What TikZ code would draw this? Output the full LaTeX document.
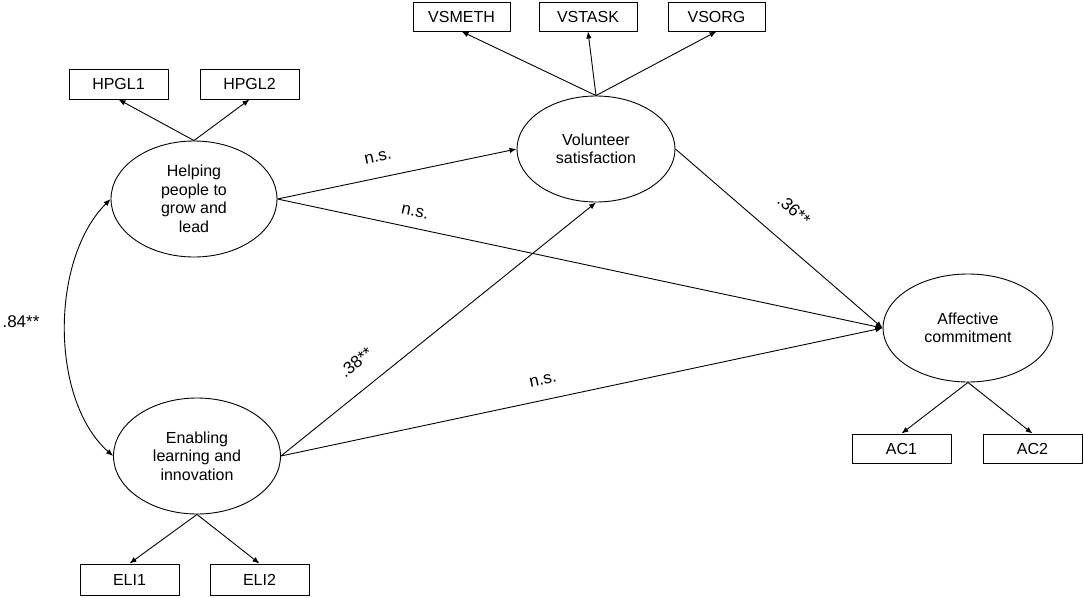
\documentclass[tikz,border=0pt]{standalone}
\usepackage{fontspec}
\setmainfont{Liberation Sans}
\usetikzlibrary{shapes.geometric,arrows.meta}
\begin{document}
\begin{tikzpicture}[x=1pt,y=-1pt,
  every node/.style={font=\fontsize{16}{18.5}\selectfont},
  obs/.style={draw,line width=0.9pt,rectangle,inner sep=0pt,minimum height=30pt},
  lat/.style={draw,line width=0.9pt,ellipse,inner sep=0pt,align=center},
  arr/.style={line width=0.9pt,-{Latex[length=7pt,width=5.5pt]}},
  darr/.style={line width=0.9pt,{Latex[length=7pt,width=5.5pt]}-{Latex[length=7pt,width=5.5pt]}},
  lab/.style={font=\fontsize{17}{20}\selectfont,inner sep=1pt}]
\useasboundingbox (0,0) rectangle (1084,597);
% latent variables
\node[lat,minimum width=166pt,minimum height=116pt] (hp) at (194,199) {Helping\\people to\\grow and\\lead};
\node[lat,minimum width=167pt,minimum height=116pt] (eli) at (197,456) {Enabling\\learning and\\innovation};
\node[lat,minimum width=158pt,minimum height=106pt] (vs) at (596,149) {Volunteer\\satisfaction};
\node[lat,minimum width=170pt,minimum height=108pt] (ac) at (968,328) {Affective\\commitment};
% observed indicators
\node[obs,minimum width=99pt] (h1) at (118.5,84) {HPGL1};
\node[obs,minimum width=99pt] (h2) at (249.5,84) {HPGL2};
\node[obs,minimum width=97pt,minimum height=29pt] (v1) at (461.5,16.5) {VSMETH};
\node[obs,minimum width=98pt,minimum height=29pt] (v2) at (588,16.5) {VSTASK};
\node[obs,minimum width=97pt,minimum height=29pt] (v3) at (716.5,16.5) {VSORG};
\node[obs,minimum width=99pt,minimum height=31pt] (e1) at (129.5,579.5) {ELI1};
\node[obs,minimum width=99pt,minimum height=31pt] (e2) at (259.5,579.5) {ELI2};
\node[obs,minimum width=99pt,minimum height=29pt] (a1) at (901.5,448.5) {AC1};
\node[obs,minimum width=99pt,minimum height=29pt] (a2) at (1032.5,448.5) {AC2};
% measurement arrows
\draw[arr] (hp.north) -- (h1.south);
\draw[arr] (hp.north) -- (h2.south);
\draw[arr] (vs.north) -- (v1.south);
\draw[arr] (vs.north) -- (v2.south);
\draw[arr] (vs.north) -- (v3.south);
\draw[arr] (eli.south) -- (e1.north);
\draw[arr] (eli.south) -- (e2.north);
\draw[arr] (ac.south) -- (a1.north);
\draw[arr] (ac.south) -- (a2.north);
% structural paths
\draw[arr] (hp.east) -- (vs.west);
\draw[arr] (hp.east) -- (ac.west);
\draw[arr] (eli.east) -- (vs.south);
\draw[arr] (eli.east) -- (ac.west);
\draw[arr] (vs.east) -- (ac.west);
% correlation
\draw[darr] (hp.west) .. controls (50,260) and (50,400) .. (eli.west);
% labels
\node[lab,rotate=12] (l1) at (378,157) {n.s.};
\node[lab,rotate=-12] (l2) at (415,212) {n.s.};
\node[lab,rotate=12] (l3) at (543,380) {n.s.};
\node[lab,rotate=39] (l4) at (356,362) {.38**};
\node[lab,rotate=-41] (l5) at (794,210) {.36**};
\node[lab] (l6) at (21,322) {.84**};
\end{tikzpicture}
\end{document}
